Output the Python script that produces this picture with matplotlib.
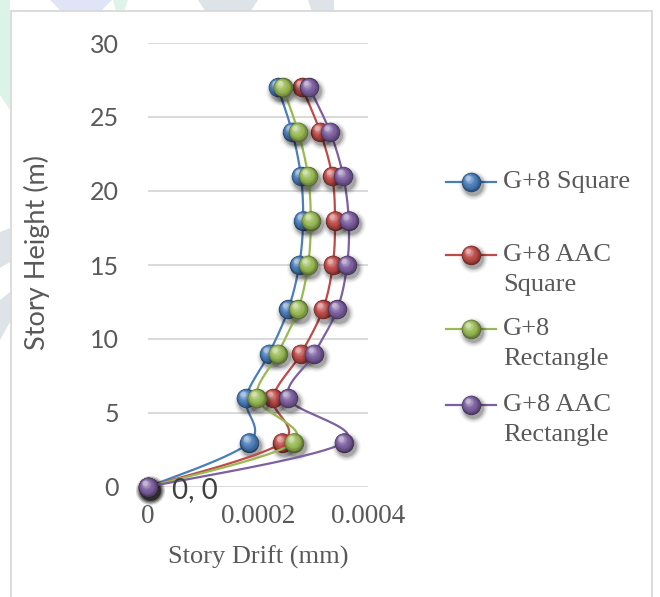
import numpy as np
import matplotlib
matplotlib.use("Agg")
import matplotlib.pyplot as plt
from matplotlib.colors import to_rgb
from matplotlib.transforms import offset_copy
from matplotlib.patches import Polygon, Rectangle

# ---- data -------------------------------------------------------------
heights = [0, 3, 6, 9, 12, 15, 18, 21, 24, 27]
drift_square = [0, 1.84e-4, 1.78e-4, 2.20e-4, 2.55e-4, 2.75e-4, 2.82e-4, 2.78e-4, 2.62e-4, 2.36e-4]
drift_aac_square = [0, 2.44e-4, 2.27e-4, 2.78e-4, 3.18e-4, 3.36e-4, 3.40e-4, 3.35e-4, 3.13e-4, 2.80e-4]
drift_rect = [0, 2.65e-4, 1.98e-4, 2.36e-4, 2.73e-4, 2.91e-4, 2.96e-4, 2.91e-4, 2.73e-4, 2.45e-4]
drift_aac_rect = [0, 3.56e-4, 2.55e-4, 3.02e-4, 3.44e-4, 3.62e-4, 3.65e-4, 3.55e-4, 3.31e-4, 2.93e-4]

series_labels = ["G+8 Square", "G+8 AAC\nSquare", "G+8\nRectangle", "G+8 AAC\nRectangle"]
series_values = [drift_square, drift_aac_square, drift_rect, drift_aac_rect]
series_colors = ["#4a7ebb", "#be4b48", "#98b954", "#7d60a0"]

x_ticks = [0, 0.0002, 0.0004]
x_tick_labels = ["0", "0.0002", "0.0004"]
y_ticks = [0, 5, 10, 15, 20, 25, 30]

W, H, DPI = 660, 597, 100
SANS = ["Lato", "DejaVu Sans"]
SERIF = ["Liberation Serif", "DejaVu Serif"]
TXT = "#595959"

fig = plt.figure(figsize=(W / DPI, H / DPI), dpi=DPI)
fig.patch.set_facecolor("white")

# full-figure overlay in pixel coordinates (background, frame, legend)
bg = fig.add_axes([0, 0, 1, 1], zorder=0)
bg.set_xlim(0, W)
bg.set_ylim(H, 0)
bg.axis("off")

# faint decorative shapes around the chart frame
for pts, col in [
    ([(50, 0), (112, 0), (100, 12), (62, 12)], "#dfe5f6"),
    ([(113, 0), (128, 0), (124, 12), (116, 12)], "#dff3ea"),
    ([(198, 0), (258, 0), (250, 12), (206, 12)], "#dde3e7"),
    ([(308, 0), (334, 0), (334, 12), (312, 12)], "#dde3e7"),
    ([(0, 0), (10, 0), (10, 110), (0, 95)], "#dcf3e8"),
    ([(0, 232), (10, 228), (10, 262), (0, 268)], "#dde3e7"),
    ([(0, 300), (10, 292), (10, 322), (0, 340)], "#dde3e7"),
]:
    bg.add_patch(Polygon(pts, closed=True, facecolor=col, edgecolor="none", zorder=0))

bg.add_patch(Rectangle((10.5, 10.5), 641, 600, facecolor="white",
                       edgecolor="#d9d9d9", lw=1.3, zorder=1))

# ---- main axes ---------------------------------------------------------
L, R, T, B = 148, 368, 43, 487
ax = fig.add_axes([L / W, 1 - B / H, (R - L) / W, (B - T) / H], zorder=2)
ax.set_facecolor("none")
ax.set_xlim(0, 0.0004)
ax.set_ylim(0, 30)
for s in ax.spines.values():
    s.set_visible(False)
ax.set_yticks(y_ticks)
ax.set_xticks(x_ticks)
ax.set_xticklabels(x_tick_labels)
ax.yaxis.grid(True, color="#d9d9d9", lw=1.4)
ax.xaxis.grid(False)
ax.set_axisbelow(True)
ax.tick_params(axis="both", length=0)
ax.tick_params(axis="y", pad=21, labelsize=18, labelcolor=TXT)
ax.tick_params(axis="x", pad=12, labelsize=19.5, labelcolor=TXT)
for lab in ax.get_yticklabels():
    lab.set_family(SANS)
for lab in ax.get_xticklabels():
    lab.set_family(SERIF)


def catmull_rom(xs, ys, n=24):
    """Smooth path through the points (uniform Catmull-Rom)."""
    p = np.column_stack([xs, ys]).astype(float)
    p = np.vstack([p[0], p, p[-1]])
    out = []
    for i in range(1, len(p) - 2):
        p0, p1, p2, p3 = p[i - 1], p[i], p[i + 1], p[i + 2]
        t = np.linspace(0, 1, n, endpoint=(i == len(p) - 3))[:, None]
        c1 = p1 + (p2 - p0) / 6
        c2 = p2 - (p3 - p1) / 6
        seg = ((1 - t) ** 3) * p1 + 3 * ((1 - t) ** 2) * t * c1 + 3 * (1 - t) * t ** 2 * c2 + t ** 3 * p2
        out.append(seg)
    out = np.vstack(out)
    return out[:, 0], out[:, 1]


def balls(target, xs, ys, color, transform, z, d=14.0):
    """Shaded sphere markers with a soft drop shadow."""
    sh = offset_copy(transform, fig=fig, x=1.6, y=-2.4, units="points")
    for extra, a in [(7, 0.04), (5, 0.07), (3, 0.10), (1, 0.18)]:
        target.scatter(xs, ys, s=(d + extra) ** 2, color="black", alpha=a, lw=0,
                       transform=sh, zorder=z, clip_on=False)
    rgb = np.array(to_rgb(color))
    dark = rgb * 0.5
    light = rgb + (1 - rgb) * 0.55
    n = 16
    for k in range(n):
        t = k / (n - 1)
        diam = d * (1 - 0.78 * t)
        if t < 0.45:
            col = dark + (rgb - dark) * (t / 0.45) ** 0.6
        else:
            col = rgb + (light - rgb) * ((t - 0.45) / 0.55) ** 1.5
        tr = offset_copy(transform, fig=fig, x=-0.16 * d * t, y=0.22 * d * t, units="points")
        target.scatter(xs, ys, s=diam ** 2, color=np.clip(col, 0, 1), lw=0,
                       transform=tr, zorder=z + 0.01 * (k + 1), clip_on=False)


for i, (vals, col) in enumerate(zip(series_values, series_colors)):
    sx, sy = catmull_rom(vals, heights)
    ax.plot(sx, sy, color=col, lw=1.6, zorder=3 + 2 * i, clip_on=False)
    balls(ax, vals, heights, col, ax.transData, 3.5 + 2 * i)

# value label at the origin point
ax.annotate(f"{drift_aac_rect[0]:g}, {heights[0]:g}", xy=(drift_aac_rect[0], heights[0]),
            xytext=(17, -2), textcoords="offset points", ha="left", va="center",
            fontsize=20, color="#404040", family=SANS, zorder=20, annotation_clip=False)

# axis titles
fig.text(258 / W, 1 - 557 / H, "Story Drift (mm)", ha="center", va="center",
         fontsize=19, color=TXT, family=SERIF)
fig.text(37 / W, 1 - 252 / H, "Story Height (m)", ha="center", va="center",
         rotation=90, fontsize=19.5, color=TXT, family=SANS)

# ---- legend ------------------------------------------------------------
legend_rows = [182, 255, 329, 405]
for lab, col, yc in zip(series_labels, series_colors, legend_rows):
    bg.plot([446, 496], [yc, yc], color=col, lw=1.6, zorder=5)
    balls(bg, [471], [yc], col, bg.transData, 6)
    for j, line in enumerate(lab.split("\n")):
        bg.text(503, yc + 30 * j, line, ha="left", va="center", fontsize=19,
                color=TXT, family=SERIF, zorder=8)

fig.savefig("out.png", dpi=DPI)
